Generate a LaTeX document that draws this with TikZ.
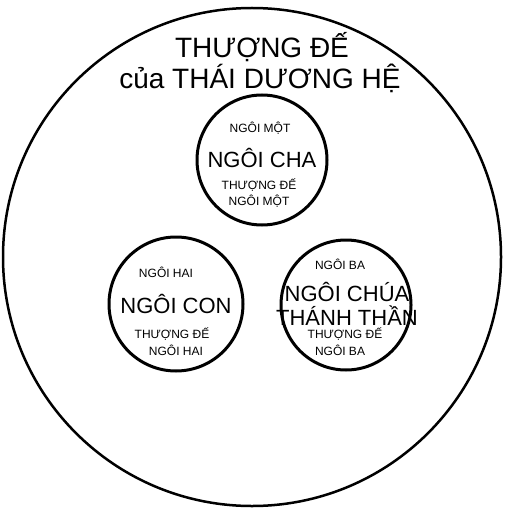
\documentclass[tikz,border=0pt]{standalone}
\usepackage{fontspec}
\setmainfont{Liberation Sans}
\begin{document}
\begin{tikzpicture}[x=1pt,y=-1pt,
  ring/.style={circle,draw=black,line width=3pt,minimum size=#1,inner sep=0pt},
  big/.style={font=\fontsize{28}{28}\selectfont,inner sep=0pt},
  mid/.style={font=\fontsize{22}{22}\selectfont,inner sep=0pt},
  small/.style={font=\fontsize{12}{12}\selectfont,inner sep=0pt}]
\useasboundingbox (0,0) rectangle (504,508);
\node[ring=498pt,line width=2.5pt] (outer) at (252,257) {};
\node[big] (t1) at (262,47) {THƯỢNG ĐẾ};
\node[big] (t2) at (260,78) {của THÁI DƯƠNG HỆ};
% top
\node[ring=130pt] (c1) at (262,160) {};
\node[small] (c1a) at (260,128) {NGÔI MỘT};
\node[mid] (c1b) at (262,158) {NGÔI CHA};
\node[small] (c1c) at (259,185) {THƯỢNG ĐẾ};
\node[small] (c1d) at (259,201) {NGÔI MỘT};
% left
\node[ring=134pt] (c2) at (176,304) {};
\node[small] (c2a) at (166,272) {NGÔI HAI};
\node[mid] (c2b) at (176,304) {NGÔI CON};
\node[small] (c2c) at (172,334) {THƯỢNG ĐẾ};
\node[small] (c2d) at (176,350) {NGÔI HAI};
% right
\node[ring=130pt] (c3) at (346,305) {};
\node[small] (c3a) at (340,264) {NGÔI BA};
\node[mid] (c3b) at (347,292) {NGÔI CHÚA};
\node[mid] (c3c) at (347,316) {THÁNH THẦN};
\node[small] (c3d) at (345,334) {THƯỢNG ĐẾ};
\node[small] (c3e) at (340,350) {NGÔI BA};
\end{tikzpicture}
\end{document}
